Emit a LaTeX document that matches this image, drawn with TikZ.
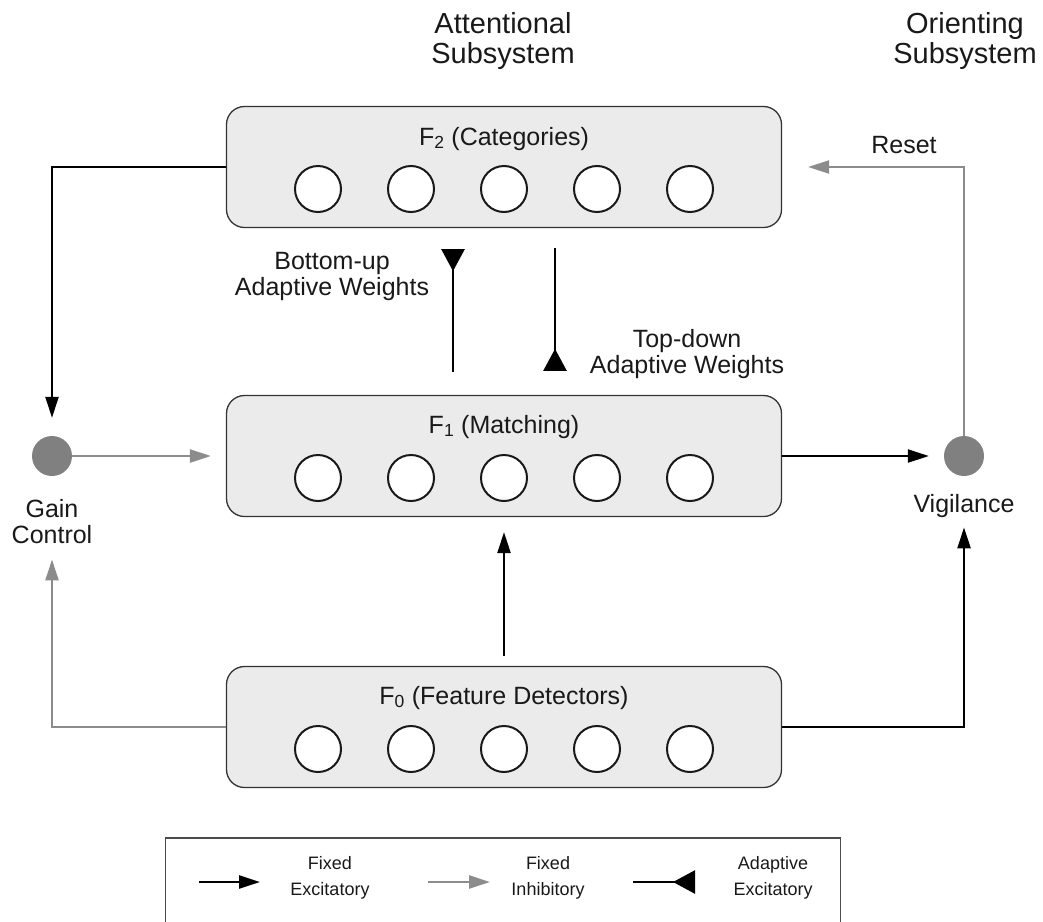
\documentclass[tikz,border=0pt]{standalone}
\usepackage{fontspec}
\setmainfont{Liberation Sans}
\usetikzlibrary{arrows.meta}

\begin{document}
\begin{tikzpicture}[x=1pt,y=-1pt,
  layer/.style={draw=black!80,line width=1.3pt,fill=black!8,rounded corners=18pt,minimum width=555pt,minimum height=121pt},
  unit/.style={circle,draw=black!90,line width=2pt,fill=white,minimum size=46pt,inner sep=0pt},
  dot/.style={circle,fill=black!50,minimum size=40pt,inner sep=0pt},
  lbl/.style={font=\fontsize{25}{26}\selectfont,align=center,inner sep=0pt,text=black!90},
  head/.style={font=\fontsize{29}{30}\selectfont,align=center,inner sep=0pt,text=black!90},
  keytxt/.style={font=\fontsize{18}{26}\selectfont,align=center,inner sep=0pt,text=black!90},
  excit/.style={line width=2.5pt,-{Triangle[length=21pt,width=13pt]}},
  inhib/.style={line width=2.5pt,draw=black!45,-{Triangle[length=21pt,width=13pt]}},
  adapt/.style={line width=2.5pt,-{Triangle[reversed,length=22pt,width=23pt]}}]
\useasboundingbox (0,0) rectangle (1043,921);

% headers (base = last line)
\node[head,anchor=base] (att) at (503,63) {Attentional\\Subsystem};
\node[head,anchor=base] (ori) at (965,63) {Orienting\\Subsystem};

% layers
\node[layer] (F2) at (504,167) {};
\node[layer] (F1) at (504,456) {};
\node[layer] (F0) at (504,727) {};
\node[lbl,anchor=base] (F2lbl) at (504,145) {F\textsubscript{2} (Categories)};
\node[lbl,anchor=base] (F1lbl) at (504,433) {F\textsubscript{1} (Matching)};
\node[lbl,anchor=base] (F0lbl) at (504,704) {F\textsubscript{0} (Feature Detectors)};
\foreach \L in {F2,F1,F0}
  \foreach \i in {1,...,5}
    \node[unit] (\L u\i) at ([xshift={(\i-3)*93pt},yshift=-22pt]\L.center) {};

% gain control and vigilance
\node[dot] (gain) at (52,456) {};
\node[dot] (vig) at (964,456) {};
\node[lbl,anchor=base] (gainlbl) at (52,543) {Gain\\Control};
\node[lbl,anchor=base] (viglbl) at (964,512) {Vigilance};
\node[lbl,anchor=base] (reset) at (904,153) {Reset};
\node[lbl,anchor=base] (bu) at (332,295) {Bottom-up\\Adaptive Weights};
\node[lbl,anchor=base] (td) at (687,373) {Top-down\\Adaptive Weights};

% connections
\draw[excit,shorten >=18pt] (F2.west) -| (gain);
\draw[inhib,shorten >=15pt] (gain) -- (F1.west);
\draw[excit,shorten >=15pt] (F1.east) -- (vig);
\draw[inhib,shorten >=26pt] (vig) |- (F2.east);
\draw[inhib,shorten >=16pt] (F0.west) -| (gainlbl.south);
\draw[excit,shorten >=10pt] (F0.east) -| (viglbl.south);
\draw[excit,shorten <=10pt,shorten >=15pt] (F0.north) -- (F1.south);
\draw[adapt,shorten <=23pt,shorten >=21pt] ([xshift=-51pt]F1.north) -- ([xshift=-51pt]F2.south);
\draw[adapt,shorten <=20pt,shorten >=24pt] ([xshift=51pt]F2.south) -- ([xshift=51pt]F1.north);

% legend
\node[draw=black!70,line width=1.2pt,minimum width=675pt,minimum height=100pt] (key) at (503,888) {};
\coordinate (k1a) at (199,882);
\coordinate (k1b) at (260,882);
\coordinate (k2a) at (428,882);
\coordinate (k2b) at (490,882);
\coordinate (k3a) at (633,882);
\coordinate (k3b) at (695,882);
\draw[excit] (k1a) -- (k1b);
\draw[inhib] (k2a) -- (k2b);
\draw[adapt] (k3a) -- (k3b);
\node[keytxt,anchor=base] (k1) at (330,895) {Fixed\\Excitatory};
\node[keytxt,anchor=base] (k2) at (548,895) {Fixed\\Inhibitory};
\node[keytxt,anchor=base] (k3) at (773,895) {Adaptive\\Excitatory};
\end{tikzpicture}
\end{document}
